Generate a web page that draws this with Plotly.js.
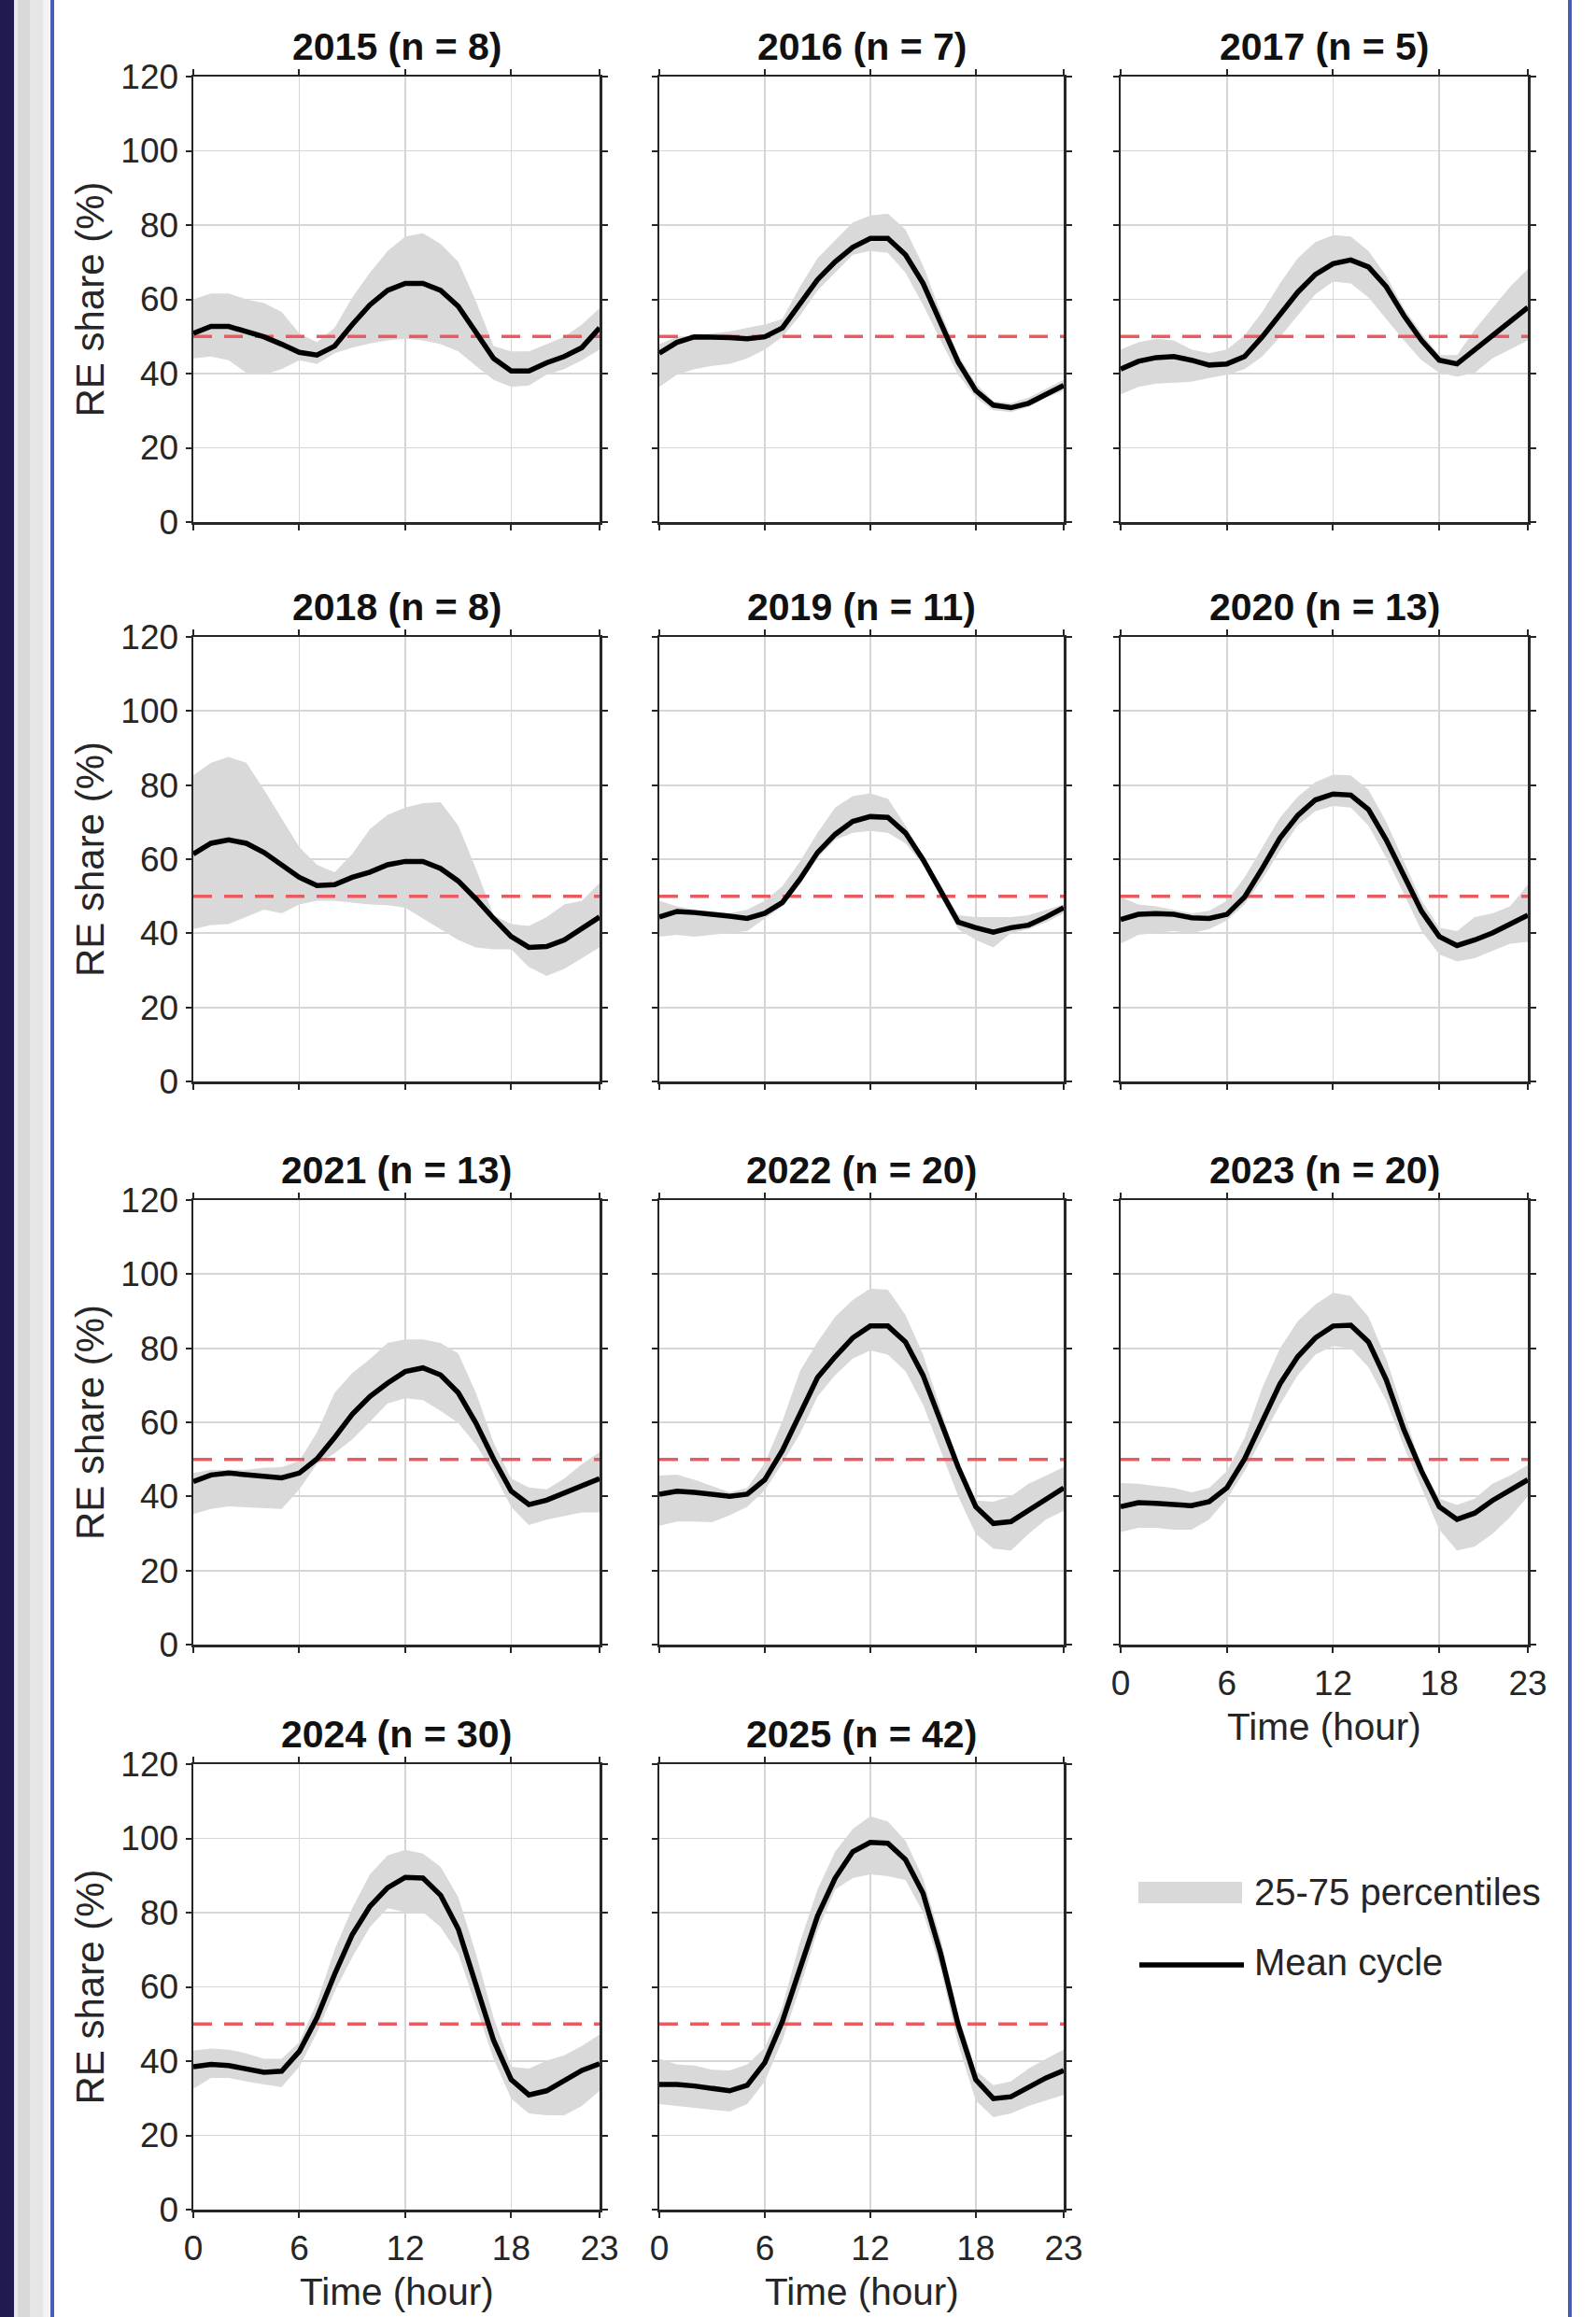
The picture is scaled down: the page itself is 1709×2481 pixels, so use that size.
<!DOCTYPE html>
<html>
<head>
<meta charset="utf-8">
<script src="https://cdn.plot.ly/plotly-3.0.1.min.js"></script>
<style>
  html, body { margin: 0; padding: 0; background: #ffffff; }
  #chart { width: 1709px; height: 2481px; }
</style>
</head>
<body>
<div id="chart"></div>
<script>
// ---------------- DATA ----------------
const hours = [0,1,2,3,4,5,6,7,8,9,10,11,12,13,14,15,16,17,18,19,20,21,22,23];
const xTickVals = [0, 6, 12, 18, 23];
const yTickVals = [0, 20, 40, 60, 80, 100, 120];
const threshold = 50;
const panelTitles = ["2015 (n = 8)", "2016 (n = 7)", "2017 (n = 5)", "2018 (n = 8)", "2019 (n = 11)", "2020 (n = 13)",
                     "2021 (n = 13)", "2022 (n = 20)", "2023 (n = 20)", "2024 (n = 30)", "2025 (n = 42)"];
const yAxisTitle = "RE share (%)";
const xAxisTitle = "Time (hour)";
const legendLabels = ["25-75 percentiles", "Mean cycle"];

const mean2015 = [50.8,52.7,52.7,51.3,49.9,47.9,45.7,45.0,47.4,53.2,58.5,62.4,64.3,64.3,62.4,58.1,51.3,44.1,40.7,40.7,42.9,44.6,47.0,52.3];
const p75_2015 = [60.0,61.6,61.6,60.0,59.0,56.6,50.8,48.4,52.3,60.5,67.2,73.0,76.9,77.8,74.9,70.1,59.5,47.4,46.0,46.0,47.9,49.9,53.2,57.6];
const p25_2015 = [44.1,44.6,43.6,40.2,39.7,41.2,43.6,42.6,45.5,47.0,48.1,48.9,49.4,48.9,47.9,46.0,42.1,38.3,36.4,36.8,39.7,41.2,43.6,46.5];

const mean2016 = [45.5,48.4,49.9,49.9,49.7,49.4,49.9,52.3,59.0,65.3,70.1,74.0,76.4,76.4,72.0,64.3,53.7,43.1,35.4,31.5,30.8,32.0,34.4,36.8];
const p75_2016 = [47.9,49.9,50.3,50.8,51.3,52.3,53.2,54.7,63.4,71.1,75.9,80.7,82.6,83.1,78.8,69.1,56.6,45.0,37.3,32.5,32.0,33.5,35.9,38.3];
const p25_2016 = [36.4,39.7,41.2,42.1,42.6,44.1,46.5,49.9,55.6,62.4,67.2,72.0,73.0,72.5,67.2,58.5,48.9,39.7,33.5,30.1,29.6,31.0,33.5,35.4];

const mean2017 = [41.2,43.3,44.3,44.6,43.6,42.3,42.6,44.6,49.9,56.1,61.9,66.7,69.6,70.6,68.7,63.4,55.6,48.9,43.6,42.6,46.5,50.3,54.2,57.8];
const p75_2017 = [46.5,48.4,49.4,48.9,46.5,45.5,46.5,50.3,56.6,64.3,71.1,75.4,77.3,76.9,73.0,66.3,57.6,50.8,45.0,45.0,51.8,57.6,63.4,68.2];
const p25_2017 = [34.4,36.4,37.3,37.5,37.8,38.8,39.7,41.2,44.6,49.9,55.6,61.4,64.8,64.3,60.5,54.7,48.9,43.6,40.2,39.2,40.2,44.1,46.5,48.9];

const mean2018 = [61.4,64.3,65.2,64.3,61.8,58.5,55.1,52.9,53.1,55.1,56.5,58.5,59.4,59.4,57.5,54.1,49.3,44.0,39.1,36.2,36.4,38.2,41.1,44.4];
const p75_2018 = [82.6,86.0,87.6,86.0,78.8,71.0,63.3,58.5,56.5,61.4,68.1,72.0,73.9,75.1,75.4,69.1,57.5,44.9,42.5,42.0,44.4,47.8,48.8,53.6];
const p25_2018 = [41.1,42.2,42.5,44.4,46.4,45.4,47.8,48.8,48.8,48.3,47.8,47.6,46.9,44.0,41.1,38.2,36.2,35.7,35.7,30.9,28.5,30.4,33.3,36.2];

const mean2019 = [44.4,45.9,45.6,45.2,44.6,44.0,45.4,48.3,54.6,61.8,66.7,70.2,71.5,71.3,67.1,59.9,51.7,43.0,41.5,40.3,41.5,42.2,44.4,46.9];
const p75_2019 = [48.8,47.3,46.4,45.9,45.4,46.4,48.8,52.7,59.4,67.1,73.9,77.0,77.8,76.3,69.1,60.9,53.1,44.9,44.4,44.4,44.4,44.9,46.4,47.8];
const p25_2019 = [39.1,39.6,39.1,39.6,40.1,40.6,44.0,47.3,53.1,60.4,65.2,67.1,67.6,67.1,64.3,58.5,49.8,41.1,38.2,36.2,40.1,41.1,43.0,45.4];

const mean2020 = [43.7,45.1,45.3,45.1,44.2,44.0,45.1,49.8,57.5,65.7,71.8,76.0,77.6,77.3,73.4,65.2,55.6,45.9,39.1,36.7,38.2,40.1,42.5,44.9];
const p75_2020 = [49.8,47.8,47.3,46.4,45.4,46.1,48.8,55.1,63.3,71.2,76.8,80.8,82.8,82.6,78.7,70.1,59.4,48.8,41.5,40.6,44.4,45.4,47.3,53.1];
const p25_2020 = [37.2,39.6,40.1,40.6,40.1,41.1,43.5,47.8,54.6,62.3,69.1,73.0,74.4,73.9,69.1,60.4,50.7,40.6,34.3,32.4,33.3,35.3,37.2,37.7];

const mean2021 = [44.0,45.8,46.3,45.8,45.3,45.0,46.3,50.1,55.9,62.2,67.0,70.6,73.7,74.7,72.8,68.0,59.8,50.1,41.4,37.8,39.0,41.0,42.9,44.8];
const p75_2021 = [46.3,47.2,47.2,47.2,47.7,47.9,49.6,57.3,68.0,73.3,77.1,81.4,82.4,82.4,81.4,78.6,68.0,54.5,44.8,42.4,41.9,44.8,48.7,52.0];
const p25_2021 = [35.2,36.6,37.3,37.1,36.9,36.6,41.9,48.7,51.6,55.4,60.2,65.1,66.5,66.0,63.1,59.8,54.0,46.3,37.1,32.3,33.7,34.7,35.7,35.7];

const mean2022 = [40.6,41.4,41.1,40.6,40.0,40.6,44.5,52.4,62.5,72.1,77.7,82.8,86.0,86.0,81.7,72.7,60.3,47.9,37.2,32.7,33.2,36.1,39.4,42.3];
const p75_2022 = [45.6,45.9,44.5,42.8,41.1,42.3,49.0,60.3,73.8,81.7,88.5,93.0,96.1,95.8,89.0,78.3,63.7,49.0,38.9,38.6,40.0,43.4,45.6,47.9];
const p25_2022 = [32.1,33.2,33.2,33.0,34.9,37.2,41.7,49.0,56.9,67.0,72.7,77.2,79.4,78.3,73.8,64.8,52.4,40.0,29.9,25.9,25.4,29.9,33.8,36.1];

const mean2023 = [37.2,38.3,38.1,37.7,37.5,38.6,42.3,50.1,60.3,70.4,77.7,82.8,86.0,86.2,81.7,71.5,58.0,46.8,37.2,33.8,35.5,38.9,41.7,44.5];
const p75_2023 = [43.6,43.4,42.8,42.3,41.1,42.3,46.8,55.8,69.3,80.0,87.3,91.8,95.0,94.1,88.5,77.2,62.5,47.9,39.4,37.7,39.4,43.4,45.6,48.5];
const p25_2023 = [30.4,31.5,31.5,31.0,31.0,33.8,39.4,46.8,55.8,64.8,72.7,78.3,80.6,80.0,74.9,65.9,53.5,42.3,31.0,25.4,26.5,29.9,34.4,40.0];

const mean2024 = [38.5,39.1,38.8,38.0,37.0,37.3,42.6,51.7,63.4,74.1,81.7,86.7,89.5,89.3,84.7,75.6,60.9,45.6,35.0,30.9,32.0,34.7,37.5,39.3];
const p75_2024 = [42.8,43.4,43.1,42.1,40.6,40.6,45.1,55.8,70.0,81.2,90.3,95.4,96.9,95.9,92.3,84.2,69.0,51.7,38.5,38.0,40.1,41.6,44.1,47.2];
const p25_2024 = [32.5,35.5,35.5,34.5,33.7,33.0,38.5,47.7,58.8,68.0,76.1,81.2,80.1,80.1,76.1,69.0,54.8,40.6,29.9,25.9,25.4,25.4,27.9,32.0];

const mean2025 = [33.7,33.7,33.3,32.7,32.0,33.5,39.6,50.7,64.9,79.1,89.3,96.4,98.9,98.7,94.3,85.2,69.0,49.7,35.0,29.9,30.4,33.0,35.5,37.5];
const p75_2025 = [40.6,39.1,38.8,37.7,37.5,39.1,43.6,54.8,72.0,86.2,96.4,102.5,106.0,104.5,99.4,89.3,73.0,52.7,37.5,33.5,34.5,38.0,40.6,43.1];
const p25_2025 = [28.4,27.9,27.4,26.9,26.4,28.4,34.5,45.6,59.8,75.1,86.2,89.3,90.3,89.8,88.8,80.1,64.9,44.6,29.4,24.9,25.9,27.9,29.4,30.9];

const meanSeries = [mean2015, mean2016, mean2017, mean2018, mean2019, mean2020, mean2021, mean2022, mean2023, mean2024, mean2025];
const upperSeries = [p75_2015, p75_2016, p75_2017, p75_2018, p75_2019, p75_2020, p75_2021, p75_2022, p75_2023, p75_2024, p75_2025];
const lowerSeries = [p25_2015, p25_2016, p25_2017, p25_2018, p25_2019, p25_2020, p25_2021, p25_2022, p25_2023, p25_2024, p25_2025];

// ---------------- LAYOUT (pixels) ----------------
const W = 1709, H = 2481;
const colX = [[207, 642], [706, 1139], [1200, 1636]];
const rowY = [[82, 559], [682, 1158], [1285, 1761], [1889, 2366]];
const px = v => v / W;
const py = v => 1 - v / H;

const FONT = "Liberation Sans, Arial, Helvetica, sans-serif";
const TXT = "#262626";
const BAND = "#d9d9d9";

const data = [];
const layout = {
  width: W, height: H,
  margin: {l: 0, r: 0, t: 0, b: 0},
  paper_bgcolor: "#ffffff",
  plot_bgcolor: "#ffffff",
  showlegend: false,
  font: {family: FONT, color: TXT},
  shapes: [],
  annotations: []
};

const bottomPanels = [8, 9, 10];

for (let i = 0; i < panelTitles.length; i++) {
  const r = Math.floor(i / 3), c = i % 3;
  const n = i + 1;
  const xa = "x" + (n === 1 ? "" : n), ya = "y" + (n === 1 ? "" : n);
  const xk = "xaxis" + (n === 1 ? "" : n), yk = "yaxis" + (n === 1 ? "" : n);
  const showX = bottomPanels.includes(i);
  const showY = c === 0;

  layout[xk] = {
    domain: [px(colX[c][0]), px(colX[c][1])],
    anchor: ya,
    range: [0, 23],
    tickmode: "array", tickvals: xTickVals, ticktext: xTickVals.map(String),
    showticklabels: showX,
    tickfont: {size: 37, color: TXT, family: FONT},
    ticks: "outside", ticklen: 6, tickwidth: 2, tickcolor: TXT,
    showline: true, linecolor: TXT, linewidth: 2.5, mirror: "ticks",
    showgrid: true, gridcolor: "#d6d6d6", gridwidth: 1.8,
    zeroline: false, fixedrange: true,
    ticklabelstandoff: 1
  };
  layout[yk] = {
    domain: [py(rowY[r][1]), py(rowY[r][0])],
    anchor: xa,
    range: [0, 120],
    tickmode: "array", tickvals: yTickVals, ticktext: yTickVals.map(String),
    showticklabels: showY,
    tickfont: {size: 37, color: TXT, family: FONT},
    ticks: "outside", ticklen: 6, tickwidth: 2, tickcolor: TXT,
    showline: true, linecolor: TXT, linewidth: 2.5, mirror: "ticks",
    showgrid: true, gridcolor: "#d6d6d6", gridwidth: 1.8,
    zeroline: false, fixedrange: true
  };

  // percentile band
  data.push({x: hours, y: upperSeries[i], xaxis: xa, yaxis: ya, type: "scatter", mode: "lines",
             line: {width: 0, color: BAND}, hoverinfo: "skip", name: legendLabels[0]});
  data.push({x: hours, y: lowerSeries[i], xaxis: xa, yaxis: ya, type: "scatter", mode: "lines",
             line: {width: 0, color: BAND}, fill: "tonexty", fillcolor: BAND, hoverinfo: "skip", name: legendLabels[0]});
  // 50% reference
  data.push({x: [hours[0], hours[hours.length - 1]], y: [threshold, threshold], xaxis: xa, yaxis: ya,
             type: "scatter", mode: "lines", line: {color: "#ea5a60", width: 3.5, dash: "20px,13px"}, hoverinfo: "skip"});
  // mean cycle
  data.push({x: hours, y: meanSeries[i], xaxis: xa, yaxis: ya, type: "scatter", mode: "lines",
             line: {color: "#000000", width: 5.5}, name: legendLabels[1]});

  // panel title
  layout.annotations.push({
    text: panelTitles[i], xref: "paper", yref: "paper",
    x: px((colX[c][0] + colX[c][1]) / 2), y: py(rowY[r][0] - 32),
    xanchor: "center", yanchor: "middle", showarrow: false,
    font: {size: 41, family: FONT, color: "#111111", weight: "bold"}
  });
  if (showY) {
    layout.annotations.push({
      text: yAxisTitle, xref: "paper", yref: "paper",
      x: px(96), y: py((rowY[r][0] + rowY[r][1]) / 2),
      xanchor: "center", yanchor: "middle", textangle: -90, showarrow: false,
      font: {size: 42, family: FONT, color: TXT}
    });
  }
  if (showX) {
    layout.annotations.push({
      text: xAxisTitle, xref: "paper", yref: "paper",
      x: px((colX[c][0] + colX[c][1]) / 2), y: py(rowY[r][1] + 88),
      xanchor: "center", yanchor: "middle", showarrow: false,
      font: {size: 40.5, family: FONT, color: TXT}
    });
  }
}

// legend (drawn as shapes + text in the empty slot)
layout.shapes.push({type: "rect", xref: "paper", yref: "paper",
  x0: px(1219), x1: px(1330), y0: py(2038), y1: py(2015), fillcolor: BAND, line: {width: 0}});
layout.shapes.push({type: "line", xref: "paper", yref: "paper",
  x0: px(1220), x1: px(1332), y0: py(2104), y1: py(2104), line: {color: "#000000", width: 5.5}});
layout.annotations.push({text: legendLabels[0], xref: "paper", yref: "paper", x: px(1341), y: py(2026),
  xanchor: "left", yanchor: "middle", showarrow: false, font: {size: 40, family: FONT, color: TXT}});
layout.annotations.push({text: legendLabels[1], xref: "paper", yref: "paper", x: px(1341), y: py(2101),
  xanchor: "left", yanchor: "middle", showarrow: false, font: {size: 40, family: FONT, color: TXT}});

// page frame decoration (screenshot borders)
const deco = [
  [0, 15, "#1f1a50"], [15, 19, "#e9e9e9"], [19, 32, "#d9d9d9"], [32, 46, "#e6e6e6"], [46, 54, "#f3f3f3"],
  [54, 58, "#4a5cb6"], [1679, 1683, "#4a5cb6"]
];
deco.forEach(d => layout.shapes.push({type: "rect", xref: "paper", yref: "paper", layer: "below",
  x0: px(d[0]), x1: px(d[1]), y0: 0, y1: 1, fillcolor: d[2], line: {width: 0}}));

Plotly.newPlot("chart", data, layout, {staticPlot: true, displayModeBar: false});
</script>
</body>
</html>
